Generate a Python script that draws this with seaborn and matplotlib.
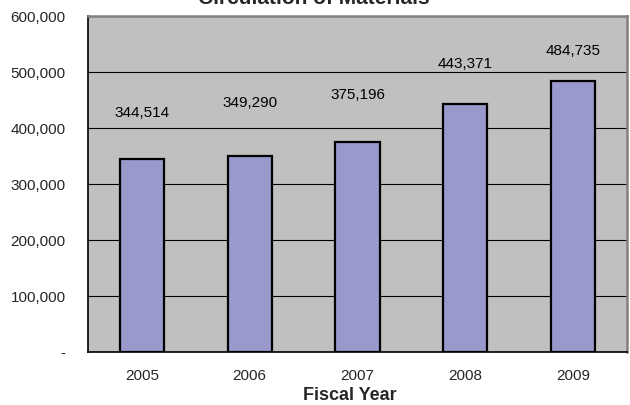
import matplotlib
matplotlib.use("Agg")
import matplotlib.pyplot as plt
import seaborn as sns
import pandas as pd
from matplotlib.ticker import FuncFormatter, MultipleLocator

# ---- data ----
years = ["2005", "2006", "2007", "2008", "2009"]
circulation = [344514, 349290, 375196, 443371, 484735]
title = "Circulation of Materials"
xlabel = "Fiscal Year"

# ---- layout (label vertical offsets above bar tops, as in the original) ----
label_offsets = [82000, 96000, 84000, 71000, 52000]

sns.set_theme(style="white")
plt.rcParams["font.family"] = ["Liberation Sans", "DejaVu Sans"]

df = pd.DataFrame({"year": years, "value": circulation})

fig = plt.figure(figsize=(6.3, 4.05), dpi=100)
ax = fig.add_axes([88 / 630, 1 - 352 / 405, (627 - 88) / 630, (352 - 16) / 405])
ax.set_facecolor("#C0C0C0")

sns.barplot(data=df, x="year", y="value", color="#9999CC", saturation=1,
            edgecolor="black", linewidth=1.6, width=0.41, ax=ax, zorder=3)

ax.set_xlim(-0.5, 4.5)
ax.set_ylim(0, 600000)
ax.yaxis.set_major_locator(MultipleLocator(100000))
ax.yaxis.set_major_formatter(FuncFormatter(lambda v, p: "-" if v == 0 else f"{int(v):,}"))
ax.grid(axis="y", color="black", linewidth=0.8, zorder=1)
ax.set_axisbelow(True)

# x ticks between categories
ax.set_xticks([i - 0.5 for i in range(len(years) + 1)], minor=False)
ax.set_xticklabels([])
ax.set_xticks(range(len(years)), minor=True)
ax.set_xticklabels(years, minor=True)
ax.tick_params(axis="x", which="major", direction="out", length=6, width=0.8, color="black")
ax.tick_params(axis="x", which="minor", length=0, pad=12, labelsize=11)
ax.tick_params(axis="y", direction="out", length=6, width=0.8, color="black", labelsize=11, pad=10)

for s in ["left", "bottom"]:
    ax.spines[s].set_color("black")
    ax.spines[s].set_linewidth(1.2)
for s in ["top", "right"]:
    ax.spines[s].set_color("#808080")
    ax.spines[s].set_linewidth(1.8)
    ax.spines[s].set_visible(True)

for i, (v, off) in enumerate(zip(circulation, label_offsets)):
    ax.text(i, v + off, f"{v:,}", ha="center", va="center", fontsize=11, color="black", zorder=4)

ax.set_xlabel("")
ax.set_ylabel("")
fig.text(350 / 630, 1 - 400 / 405, xlabel, ha="center", va="baseline", fontsize=13, fontweight="bold")
fig.text(314 / 630, 1 - 4 / 405, title, ha="center", va="baseline", fontsize=15, fontweight="bold")

fig.savefig("out.png", dpi=100)
